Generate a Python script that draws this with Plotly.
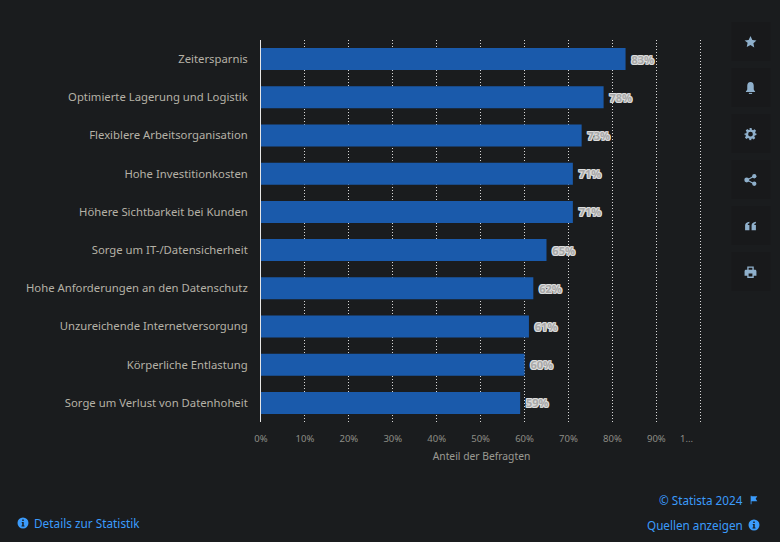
import base64
import plotly.graph_objects as go

categories = ["Zeitersparnis", "Optimierte Lagerung und Logistik", "Flexiblere Arbeitsorganisation",
              "Hohe Investitionkosten", "Höhere Sichtbarkeit bei Kunden", "Sorge um IT-/Datensicherheit",
              "Hohe Anforderungen an den Datenschutz", "Unzureichende Internetversorgung",
              "Körperliche Entlastung", "Sorge um Verlust von Datenhoheit"]
values = [83, 78, 73, 71, 71, 65, 62, 61, 60, 59]
value_labels = ["83%", "78%", "73%", "71%", "71%", "65%", "62%", "61%", "60%", "59%"]
tick_values = [0, 10, 20, 30, 40, 50, 60, 70, 80, 90, 100]
tick_labels = ["0%", "10%", "20%", "30%", "40%", "50%", "60%", "70%", "80%", "90%", "\u00a0"]

W, H = 780, 542
L, R, T, B = 260.5, 702.4, 40, 422
BG = "#1a1c1e"
LINK = "#3b9bfb"
ICON = "#8fb0cc"
FONT = "Noto Sans, Open Sans, sans-serif"


def px(x):
    return (x - L) / (R - L)


def py(y):
    return (B - y) / (B - T)


def uri(body, color):
    svg = ('<svg xmlns="http://www.w3.org/2000/svg" viewBox="0 0 24 24" width="48" height="48">'
           f'<g fill="{color}">{body}</g></svg>')
    return "data:image/svg+xml;base64," + base64.b64encode(svg.encode()).decode()


STAR = '<path d="M12 1l3.4 7.2 7.6 1-5.6 5.3 1.5 7.8L12 17.5l-6.9 3.8 1.5-7.8L1 9.2l7.6-1z"/>'
BELL = '<path d="M12 1c4 0 6 3 6 7v6c0 2 1 3 2.5 4.5v1h-17v-1C5 17 6 16 6 14V8c0-4 2-7 6-7z"/><rect x="9" y="21" width="6" height="2"/>'
GEAR = ('<path fill-rule="evenodd" d="M10 1h4l.6 3.1 2.2.9 2.7-1.8 2.8 2.8-1.8 2.7.9 2.2L23 11v3l-3.1.6-.9 2.2 1.8 2.7-2.8 2.8-2.7-1.8-2.2.9L14 23.5h-4l-.6-3.1-2.2-.9-2.7 1.8-2.8-2.8 1.8-2.7-.9-2.2L1 14v-3l3.1-.6.9-2.2-1.8-2.7 2.8-2.8 2.7 1.8 2.2-.9zM12 8a4.4 4.4 0 1 0 0 8.8A4.4 4.4 0 0 0 12 8z"/>')
SHARE = ('<circle cx="19" cy="5" r="4"/><circle cx="19" cy="19" r="4"/><circle cx="5" cy="12" r="4.5"/>'
         '<path d="M5 11l13-7 1 2-13 7zM5 13l13 7 1-2-13-7z"/>')
QUOTE = '<path d="M2 20V11c0-4 3-6 8-7v3c-2 .5-3 1.500-3 3h3v10zM14 20V11c0-4 3-6 8-7v3c-2 .5-3 1.500-3 3h3v10z"/>'
PRINT = ('<path fill-rule="evenodd" d="M6 2h12v6h2c2 0 3 1 3 3v8h-5v4H6v-4H1v-8c0-2 1-3 3-3h2zM8.500 4v4h7V4zM8.500 15v5.500h7V15z"/>')
INFO = ('<path fill-rule="evenodd" d="M12 1a11 11 0 1 0 0 22 11 11 0 0 0 0-22zM10.500 5h3v3h-3zM9.500 10h4v7h1.500v2H9v-2h1.500v-5h-1z"/>')
FLAG = '<path d="M4 2h2v1h14l-4 6 4 6H6v7H4z"/>'

fig = go.Figure(go.Bar(
    x=values, y=categories, orientation="h", width=0.576,
    marker=dict(color="#1a5aab", line=dict(width=0)),
    text=value_labels, texttemplate="\u00a0%{text}", textposition="outside", cliponaxis=False,
    textfont=dict(family=FONT, size=11, weight=700, color="#a8a8a8",
                  shadow="1px 0 0 #ddd,-1px 0 0 #ddd,0 1px 0 #ddd,0 -1px 0 #ddd,1px 1px 0 #ccc,-1px -1px 0 #ccc,1px -1px 0 #ccc,-1px 1px 0 #ccc"),
    hoverinfo="skip",
))

shapes = []
images = []
for i, (cy, icon) in enumerate(zip([42, 88, 134, 180, 226, 272], [STAR, BELL, GEAR, SHARE, QUOTE, PRINT])):
    shapes.append(dict(type="rect", xref="paper", yref="paper", layer="below",
                       x0=px(732), x1=px(771), y0=py(cy - 20), y1=py(cy + 19),
                       fillcolor="#18191b", line=dict(width=0)))
    images.append(dict(source=uri(icon, ICON), xref="paper", yref="paper", x=px(751), y=py(cy),
                       sizex=13 / (R - L), sizey=13 / (B - T), xanchor="center", yanchor="middle", layer="above"))
for x, y, size, icon in [(22, 523, 12, INFO), (754.5, 525, 12, INFO), (754.5, 500, 10, FLAG)]:
    images.append(dict(source=uri(icon, LINK), xref="paper", yref="paper", x=px(x), y=py(y),
                       sizex=size / (R - L), sizey=size / (B - T), xanchor="center", yanchor="middle", layer="above"))


def note(text, x, y, anchor, size, color):
    return dict(text=text, xref="paper", yref="paper", x=px(x), y=py(y), xanchor=anchor, yanchor="middle",
                showarrow=False, font=dict(family=FONT, size=size, color=color), borderpad=0)


annotations = [
    note("1...", 687, 438, "center", 9.5, "#8e8e86"),
    note("© Statista 2024", 744.5, 500, "right", 11.7, LINK),
    note("Quellen anzeigen", 744.5, 525, "right", 11.7, LINK),
    note("Details zur Statistik", 32.5, 523, "left", 11.8, LINK),
]

fig.update_layout(
    width=W, height=H, autosize=False,
    margin=dict(l=L, r=W - R, t=T, b=H - B, pad=0),
    paper_bgcolor=BG, plot_bgcolor=BG, showlegend=False, bargap=0.424,
    font=dict(family=FONT, color="#b5b1a6"),
    shapes=shapes, images=images, annotations=annotations,
    xaxis=dict(range=[0, 100.4], tickvals=tick_values, ticktext=tick_labels, showgrid=True,
               gridcolor="#d8d8d8", griddash="1px,2px", gridwidth=1, zeroline=False, showline=False,
               ticks="", ticklen=0, ticklabelstandoff=9, tickfont=dict(size=9.5, color="#8e8e86", family=FONT),
               title=dict(text="Anteil der Befragten", font=dict(size=10.3, color="#9a9a92", family=FONT), standoff=9)),
    yaxis=dict(autorange="reversed", showgrid=False, zeroline=False, showline=True, linecolor="#e6e6e6",
               linewidth=1, ticks="", ticklabelstandoff=10, tickfont=dict(size=11.3, color="#b5b1a6", family=FONT)),
)
fig.write_html("out.html", config=dict(displayModeBar=False),
               post_script="document.body.style.margin='0';document.body.style.background='#1a1c1e';")
